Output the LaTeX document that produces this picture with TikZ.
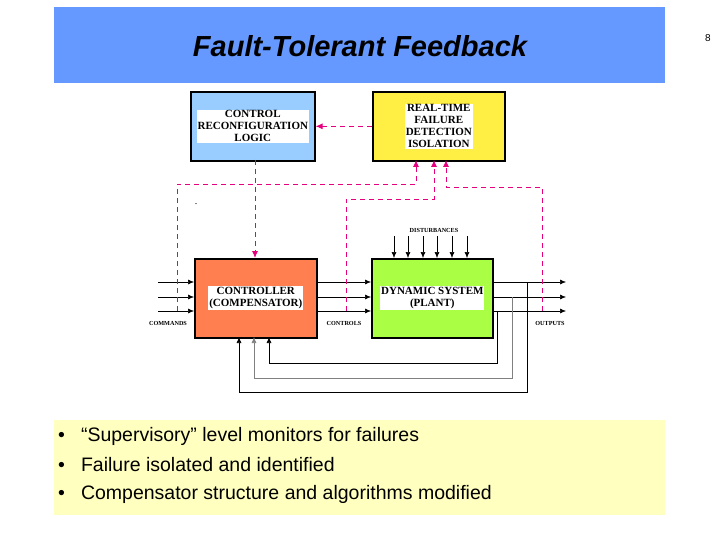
\documentclass[tikz,border=0pt]{standalone}
\usepackage{fontspec}
\setmainfont{Liberation Serif}
\newfontfamily\arial{Liberation Sans}
\usetikzlibrary{arrows.meta,calc,positioning}
\definecolor{titleblue}{HTML}{6699FF}
\definecolor{notebg}{HTML}{FFFFC0}
\definecolor{logicblue}{HTML}{99CCFF}
\definecolor{detyellow}{HTML}{FFEE44}
\definecolor{ctrlorange}{HTML}{FF7F50}
\definecolor{plantgreen}{HTML}{AAFF44}
\definecolor{supmag}{HTML}{E6007E}
\tikzset{
    block/.style = {draw, line width=1.6pt, anchor=north west, inner sep=0pt},
    blocklabel/.style = {fill=white, inner sep=1pt, align=center, font=\fontsize{11}{12}\selectfont\bfseries},
    smalllabel/.style = {font=\fontsize{6.2}{7}\selectfont\bfseries},
    sigarrow/.style = {-{Latex[length=6pt,width=5pt]}, line width=0.6pt},
    supline/.style = {supmag, line width=0.9pt, dash pattern=on 5pt off 4pt},
    suparrow/.style = {supline, -{Latex[length=7pt,width=6pt]}}
}

\begin{document}
\begin{tikzpicture}[x=1pt,y=-1pt]
    \useasboundingbox (0,0) rectangle (720,540);
    \fill[titleblue] (54,7) rectangle (665,83);
    \node[font=\arial\fontsize{29}{32}\selectfont\bfseries\itshape] (title) at (360,46) {Fault-Tolerant Feedback};
    \node[font=\arial\fontsize{10}{12}\selectfont] (page) at (708,38) {8};
    \fill[notebg] (54,420) rectangle (665,515);
    \foreach \t [count=\i] in {“Supervisory” level monitors for failures,
        Failure isolated and identified,
        Compensator structure and algorithms modified}
        \node[font=\arial\fontsize{19.5}{22}\selectfont, anchor=west, inner sep=0pt] (note-\i) at (58,407+29*\i) {\textbullet\hspace{16pt}\t};

    % blocks
    \node[block, fill=logicblue, minimum width=124pt, minimum height=69pt] (logic) at (190,91) {};
    \node[blocklabel] at (logic.center) {CONTROL\\RECONFIGURATION\\LOGIC};
    \node[block, fill=detyellow, minimum width=132pt, minimum height=69pt] (detect) at (372,91) {};
    \node[blocklabel] at (detect.center) {REAL-TIME\\FAILURE\\DETECTION\\ISOLATION};
    \node[block, fill=ctrlorange, minimum width=122pt, minimum height=79pt] (ctrl) at (194,258) {};
    \node[blocklabel] at (ctrl.center) {CONTROLLER\\(COMPENSATOR)};
    \node[block, fill=plantgreen, minimum width=121pt, minimum height=79pt] (plant) at (371,258) {};
    \node[blocklabel] at (plant.center) {DYNAMIC SYSTEM\\(PLANT)};
    \node (dot) at (196,204) {.};

    % signal labels
    \node[smalllabel] (commands) at (168,323) {COMMANDS};
    \node[smalllabel] (controls) at (344,323) {CONTROLS};
    \node[smalllabel] (outputs) at (550,323) {OUTPUTS};
    \node[smalllabel] (dist) at (434,230) {DISTURBANCES};

    % signal lines
    \foreach \y in {282,297,311} {
        \draw[sigarrow] (158,\y) -- (ctrl.west |- 0,\y);
        \draw[sigarrow] (ctrl.east |- 0,\y) -- (plant.west |- 0,\y);
        \draw[sigarrow] (plant.east |- 0,\y) -- (566,\y);
    }
    \foreach \x in {394,408,423,437,452,467}
        \draw[sigarrow] (\x,236) -- (\x,258);

    % feedback
    \draw[sigarrow] (527,282) -- (527,392) -- (239,392) -- (239,337);
    \draw[sigarrow, gray] (512,297) -- (512,378) -- (254,378) -- (254,337);
    \draw[sigarrow] (497,311) -- (497,363) -- (269,363) -- (269,337);

    % supervisory loop
    \draw[suparrow] (detect.west) -- (logic.east);
    \draw[suparrow] (255,160) -- (255,258);
    \draw[suparrow] (177,311) -- (177,184) -- (416,184) -- (416,160);
    \draw[suparrow] (346,311) -- (346,199) -- (434,199) -- (434,160);
    \draw[suparrow] (542,311) -- (542,187) -- (446,187) -- (446,160);
\end{tikzpicture}
\end{document}
